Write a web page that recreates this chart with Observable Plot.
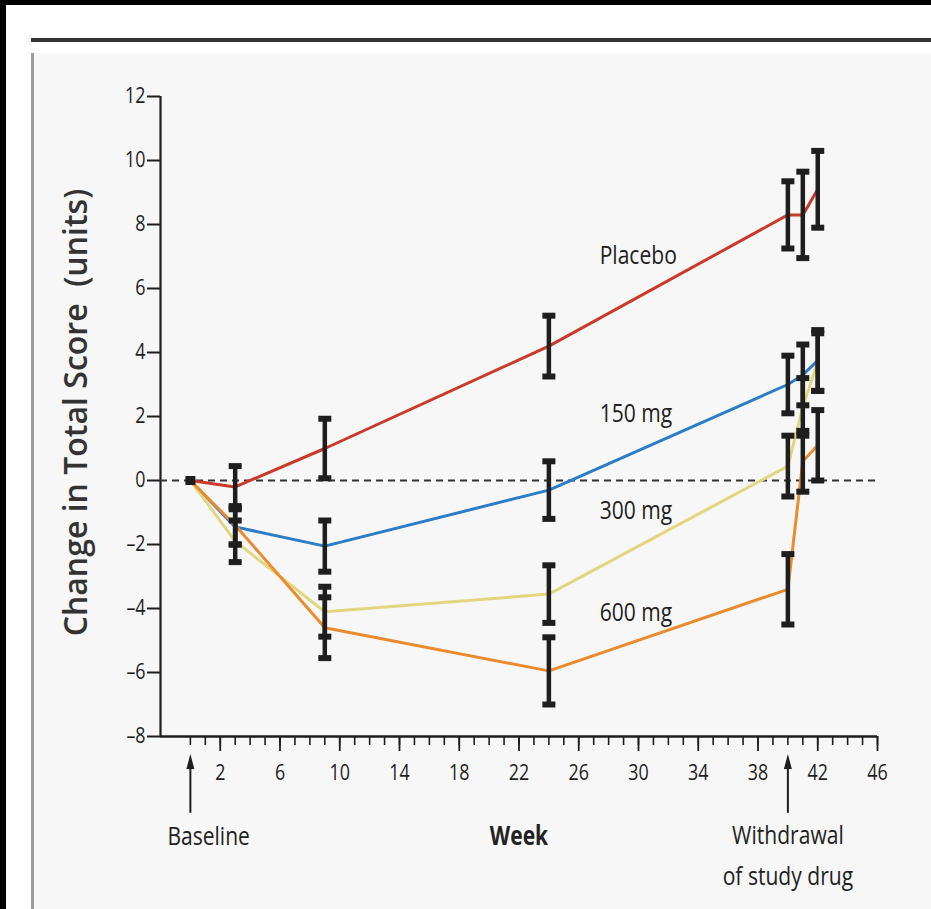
<!DOCTYPE html>
<html><head><meta charset="utf-8">
<script src="https://cdn.jsdelivr.net/npm/d3@7"></script>
<script src="https://cdn.jsdelivr.net/npm/@observablehq/plot@0.6"></script>
<style>
html,body{margin:0;padding:0;background:#000;}
#page{position:relative;width:931px;height:909px;overflow:hidden;background:#000;}
#white{position:absolute;left:6px;top:5px;right:0;bottom:0;background:#fff;}
#rule{position:absolute;left:31px;top:38px;right:0;height:4px;background:#333;}
#panel{position:absolute;left:31px;top:53px;right:0;bottom:0;background:#f7f7f7;border-left:3px solid #9c9c9c;}
#chart{position:absolute;left:0;top:0;}
</style></head>
<body><div id="page"><div id="white"></div><div id="rule"></div><div id="panel"></div><div id="chart"></div></div>
<script>
// ---- data ----
const weeks = [0, 3, 9, 24, 40, 41, 42];
const seriesNames = ["Placebo", "150 mg", "300 mg", "600 mg"];
const seriesColors = ["#c93a2b", "#2a7dc6", "#e2d77e", "#e98b2e"];
const placebo    = [0, -0.2, 1.0, 4.2, 8.3, 8.3, 9.1];
const placeboErr = [0, 0.65, 0.93, 0.95, 1.05, 1.35, 1.2];
const mg150      = [0, -1.45, -2.05, -0.3, 3.0, 3.3, 3.75];
const mg150Err   = [0, 0.55, 0.8, 0.9, 0.9, 0.95, 0.95];
const mg300      = [0, -1.9, -4.1, -3.55, 0.45, 2.3, 3.7];
const mg300Err   = [0, 0.65, 0.78, 0.9, 0.95, 0.9, 0.9];
const mg600      = [0, -1.4, -4.6, -5.95, -3.4, 0.6, 1.1];
const mg600Err   = [0, 0.6, 0.95, 1.05, 1.1, 0.95, 1.1];
const yTicks = [-8, -6, -4, -2, 0, 2, 4, 6, 8, 10, 12];
const xTickLabels = [2, 6, 10, 14, 18, 22, 26, 30, 34, 38, 42, 46];
const xMinorTicks = d3.range(0, 47);
const yTitle = "Change in Total Score  (units)";
const xTitle = "Week";
const baselineLabel = "Baseline";
const withdrawalLabel = "Withdrawal\nof study drug";
const baselineWeek = 0;
const withdrawalWeek = 40;

// ---- build table ----
const valueLists = [placebo, mg150, mg300, mg600];
const errLists = [placeboErr, mg150Err, mg300Err, mg600Err];
const rows = seriesNames.flatMap((s, k) => weeks.map((w, i) => ({series: s, week: w, value: valueLists[k][i], err: errLists[k][i]})));
const errRows = rows.filter(d => d.week > 0);

// annotation anchors (data coordinates)
const seriesLabelX = 27.4;
const seriesLabelY = [6.78, 1.84, -1.19, -4.375];
const labelRows = seriesNames.map((s, i) => ({text: s, y: seriesLabelY[i]}));

const font = "'Open Sans', 'Noto Sans', sans-serif";
const ink = "#1e1e1e";

const capSymbol = {draw(ctx) { ctx.rect(-6.5, -3, 13, 6); }};
const squareSymbol = {draw(ctx) { ctx.rect(-5, -4.5, 10, 9); }};
const headSymbol = {draw(ctx) { ctx.moveTo(0, 0); ctx.lineTo(4, 15); ctx.lineTo(-4, 15); ctx.closePath(); }};

const chart = Plot.plot({
  width: 931,
  height: 909,
  marginLeft: 160,
  marginRight: 54,
  marginTop: 96,
  marginBottom: 173,
  style: {background: "transparent", fontFamily: font, overflow: "visible", color: ink},
  x: {domain: [-2, 46]},
  y: {domain: [-8, 12]},
  color: {domain: seriesNames, range: seriesColors},
  marks: [
    Plot.axisY(yTicks, {tickSize: 13, tickPadding: 2, fontSize: 21, strokeWidth: 2, stroke: ink, fill: ink, label: null,
      tickFormat: d => d < 0 ? "\u2013" + Math.abs(d) : String(d)}),
    Plot.axisX(xMinorTicks, {tickSize: 9, strokeWidth: 1.6, stroke: ink, tickFormat: () => "", label: null}),
    Plot.axisX(xTickLabels, {tickSize: 15, tickPadding: 14, fontSize: 21, strokeWidth: 1.8, stroke: ink, fill: ink, label: null}),
    Plot.ruleX([-2], {y1: -8, y2: 12, stroke: ink, strokeWidth: 2.2}),
    Plot.ruleY([-8], {x1: -2, x2: 46, stroke: ink, strokeWidth: 2.4}),
    Plot.ruleY([0], {stroke: "#333", strokeWidth: 2, strokeDasharray: "7,5"}),
    Plot.line(rows, {x: "week", y: "value", z: "series", stroke: "series", strokeWidth: 3}),
    Plot.ruleX(errRows, {x: "week", y1: d => d.value - d.err, y2: d => d.value + d.err, stroke: ink, strokeWidth: 4.5}),
    Plot.dot(errRows, {x: "week", y: d => d.value + d.err, symbol: capSymbol, fill: ink, stroke: "none"}),
    Plot.dot(errRows, {x: "week", y: d => d.value - d.err, symbol: capSymbol, fill: ink, stroke: "none"}),
    Plot.dot(rows.filter(d => d.week === 0).slice(0, 1), {x: "week", y: "value", symbol: squareSymbol, fill: ink, stroke: "none"}),
    Plot.text(labelRows, {x: seriesLabelX, y: "y", text: "text", textAnchor: "start", lineAnchor: "bottom", fontSize: 26, fill: "#222"}),
    // arrows below axis
    Plot.ruleX([baselineWeek, withdrawalWeek], {y1: -10.4, y2: -8.9, stroke: ink, strokeWidth: 2}),
    Plot.dot([baselineWeek, withdrawalWeek], {x: d => d, y: -8.55, symbol: headSymbol, fill: ink, stroke: "none"}),
    Plot.text([baselineLabel], {x: baselineWeek, frameAnchor: "bottom", dy: 108, dx: -23, textAnchor: "start", lineAnchor: "bottom", fontSize: 26, fill: "#222"}),
    Plot.text([xTitle], {x: 22, frameAnchor: "bottom", dy: 108, textAnchor: "middle", lineAnchor: "bottom", fontSize: 26, fontWeight: "bold", fill: "#222"}),
    Plot.text([withdrawalLabel], {x: withdrawalWeek, frameAnchor: "bottom", dy: 148, textAnchor: "middle", lineAnchor: "bottom", lineHeight: 1.54, fontSize: 26, fill: "#222"}),
    Plot.text([yTitle], {frameAnchor: "left", dx: -84, dy: -4, rotate: -90, textAnchor: "middle", lineAnchor: "middle", fontSize: 32, fontWeight: 600, fill: "#333"})
  ]
});
document.getElementById("chart").appendChild(chart);

// condense glyphs horizontally to mimic the narrow typeface of the original
function condense(el, f) {
  const L = el.getComputedTextLength();
  if (L > 0) {
    el.setAttribute("textLength", (L * f).toFixed(1));
    el.setAttribute("lengthAdjust", "spacingAndGlyphs");
  }
}
chart.querySelectorAll("text").forEach(t => {
  if (t.textContent === yTitle) return;
  const isTick = (t.closest("g[aria-label]") || {}).getAttribute &&
    /tick label/.test(t.closest("g[aria-label]").getAttribute("aria-label"));
  const f = isTick ? 0.85 : 0.81;
  const parts = t.querySelectorAll("tspan");
  if (parts.length) parts.forEach(p => condense(p, f)); else condense(t, f);
});
</script>
</body></html>
